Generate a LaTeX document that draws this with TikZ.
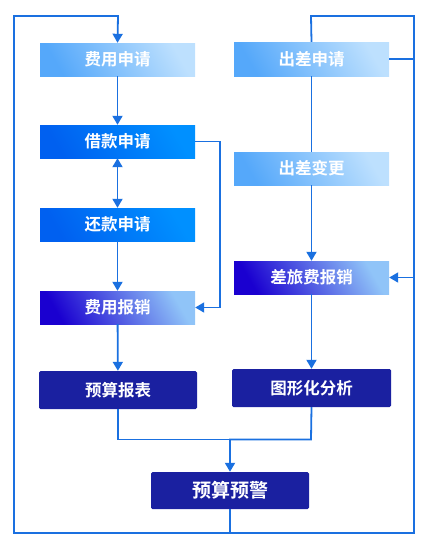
\documentclass[tikz,border=0pt]{standalone}
\usepackage{fontspec}
\setmainfont{Noto Sans CJK SC}[BoldFont={Noto Sans CJK SC Bold}]
\usetikzlibrary{arrows.meta}
\definecolor{lnc}{HTML}{1A70E0}
\definecolor{lightA}{HTML}{55A8FA}
\definecolor{lightB}{HTML}{BDE0FE}
\definecolor{midA}{HTML}{0060F0}
\definecolor{midB}{HTML}{0090FF}
\definecolor{gradA}{HTML}{1A00D0}
\definecolor{gradB}{HTML}{90C4F8}
\definecolor{navy}{HTML}{1A20A0}
\tikzset{
  box/.style={rectangle, inner sep=0pt, minimum width=155pt, minimum height=33pt,
    text=white, font=\bfseries\fontsize{16.5}{16.5}\selectfont},
  lightbox/.style={box, bottom color=lightA, top color=lightB, shading angle=-60},
  midbox/.style={box, bottom color=midA, top color=midB, shading angle=-60},
  gradbox/.style={box, bottom color=gradA, top color=gradB, shading angle=-60},
  darkbox/.style={box, fill=navy, rounded corners=1.5pt, minimum width=158pt, minimum height=38pt},
  conn/.style={draw=lnc, line width=1.8pt},
  arr/.style={conn, -{Triangle[width=10pt,length=9pt]}},
  darr/.style={conn, {Triangle[width=10pt,length=9pt]}-{Triangle[width=10pt,length=9pt]}},
}
\begin{document}
\begin{tikzpicture}[x=1pt,y=-1pt]
\useasboundingbox (0,0) rectangle (431,546);
% left column
\node[lightbox] (fysq) at (117.5,59.5) {费用申请};
\node[midbox] (jksq) at (117.5,141.5) {借款申请};
\node[midbox] (hksq) at (117.5,224.5) {还款申请};
\node[gradbox] (fybx) at (117.5,307.5) {费用报销};
\node[darkbox] (ysbb) at (118,390) {预算报表};
% right column
\node[lightbox, minimum height=34pt] (ccsq) at (311.5,59) {出差申请};
\node[lightbox] (ccbg) at (311.5,168.5) {出差变更};
\node[gradbox] (clfbx) at (311.5,277.5) {差旅费报销};
\node[darkbox, minimum width=159pt] (txhfx) at (311.5,388) {图形化分析};
% bottom
\node[darkbox, minimum height=37pt, font=\bfseries\fontsize{19}{19}\selectfont] (yjyj) at (230,490.5) {预算预警};
% helper coordinates
\coordinate (bl) at (230,533);
\coordinate (cornerBL) at (14,533);
\coordinate (cornerTL) at (14,16);
\coordinate (topL) at (118,16);
\coordinate (cornerBR) at (414,533);
\coordinate (cornerTR) at (414,16);
\coordinate (topR) at (311,16);
\coordinate (ccR) at (414,59);
\coordinate (clR) at (414,277.5);
\coordinate (jkR) at (220,141.5);
\coordinate (fyR) at (220,307.5);
\coordinate (ysB) at (118,439.5);
\coordinate (txB) at (311,439.5);
\coordinate (mid) at (230,439.5);
% connectors
\draw[arr] (yjyj.south) -- (bl) -- (cornerBL) -- (cornerTL) -- (topL) -- (fysq.north);
\draw[conn] (bl) -- (cornerBR) -- (cornerTR) -- (topR) -- (ccsq.north);
\draw[conn] (ccsq.east) -- (ccR);
\draw[arr] (clR) -- (clfbx.east);
\draw[arr] (fysq) -- (jksq);
\draw[darr] (jksq) -- (hksq);
\draw[arr] (hksq) -- (fybx);
\draw[arr] (fybx) -- (ysbb);
\draw[arr] (jksq.east) -- (jkR) -- (fyR) -- (fybx.east);
\draw[conn] (ccsq.south) -- (ccbg.north);
\draw[arr] (ccbg.south) -- (clfbx.north);
\draw[arr] (clfbx.south) -- (txhfx.north);
\draw[conn] (ysbb.south) -- (ysB) -- (mid);
\draw[arr] (txhfx.south) -- (txB) -- (mid) -- (yjyj.north);
\end{tikzpicture}
\end{document}
